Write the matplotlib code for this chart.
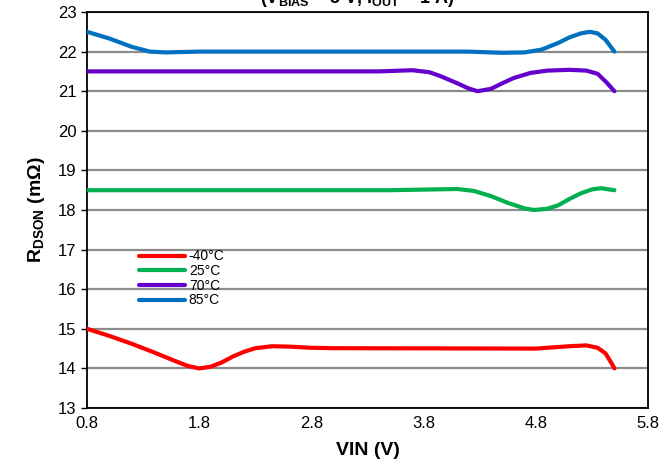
import matplotlib
matplotlib.use("Agg")
import matplotlib.pyplot as plt

plt.rcParams['font.family'] = ['Liberation Sans', 'DejaVu Sans']
plt.rcParams['mathtext.fontset'] = 'custom'
plt.rcParams['mathtext.rm'] = 'Liberation Sans'
plt.rcParams['mathtext.bf'] = 'Liberation Sans:bold'

# data
vin_m40 = [0.8, 1.0, 1.2, 1.4, 1.6, 1.7, 1.8, 1.9, 2.0, 2.1, 2.2, 2.3, 2.45, 2.6, 2.8, 3.0,
           4.8, 4.95, 5.1, 5.25, 5.35, 5.42, 5.47, 5.5]
r_m40 = [15.0, 14.82, 14.62, 14.4, 14.17, 14.06, 14.0, 14.04, 14.15, 14.3, 14.42, 14.51, 14.56,
         14.55, 14.52, 14.51, 14.5, 14.53, 14.56, 14.58, 14.52, 14.38, 14.15, 14.0]

vin_25 = [0.8, 3.5, 3.9, 4.1, 4.25, 4.4, 4.55, 4.7, 4.78, 4.9, 5.0, 5.1, 5.2, 5.3, 5.38, 5.45, 5.5]
r_25 = [18.5, 18.5, 18.52, 18.53, 18.48, 18.35, 18.18, 18.04, 18.0, 18.03, 18.12, 18.28, 18.42,
        18.52, 18.55, 18.52, 18.5]

vin_70 = [0.8, 3.4, 3.6, 3.7, 3.85, 3.95, 4.1, 4.2, 4.28, 4.4, 4.5, 4.6, 4.75, 4.9, 5.1, 5.25,
          5.35, 5.42, 5.5]
r_70 = [21.5, 21.5, 21.52, 21.53, 21.48, 21.38, 21.2, 21.07, 21.0, 21.06, 21.2, 21.33, 21.46,
        21.52, 21.54, 21.52, 21.44, 21.25, 21.0]

vin_85 = [0.8, 1.0, 1.2, 1.36, 1.5, 1.8, 4.2, 4.5, 4.7, 4.85, 5.0, 5.1, 5.2, 5.28, 5.35, 5.42, 5.5]
r_85 = [22.5, 22.33, 22.12, 22.0, 21.98, 22.0, 22.0, 21.97, 21.98, 22.05, 22.22, 22.36, 22.46,
        22.5, 22.46, 22.3, 22.0]

labels = ['-40°C', '25°C', '70°C', '85°C']
colors = ['#FF0000', '#00B050', '#6600CC', '#0070C0']
xticks = [0.8, 1.8, 2.8, 3.8, 4.8, 5.8]
yticks = list(range(13, 24))

fig = plt.figure(figsize=(6.62, 4.71), dpi=100)
ax = fig.add_axes([0.1314, 0.1338, 0.8476, 0.8407])

series = [(vin_m40, r_m40), (vin_25, r_25), (vin_70, r_70), (vin_85, r_85)]
for (x, y), lab, c in zip(series, labels, colors):
    ax.plot(x, y, color=c, lw=3, label=lab, solid_capstyle='round', solid_joinstyle='round', zorder=3)

ax.set_xlim(0.8, 5.8)
ax.set_ylim(13, 23)
ax.set_xticks(xticks)
ax.set_xticklabels([f'{v:.1f}' for v in xticks])
ax.set_yticks(yticks)
ax.tick_params(axis='x', length=0, labelsize=12, pad=6)
ax.tick_params(axis='y', length=4, width=1, labelsize=12, direction='out')
ax.grid(axis='y', color='#8C8C8C', lw=1.6)
for s in ax.spines.values():
    s.set_linewidth(1.3)

ax.set_xlabel('VIN (V)', fontsize=14, fontweight='bold', labelpad=8)
ax.set_ylabel(r'$\mathbf{R_{DSON}}$ (m$\mathbf{\Omega}$)', fontsize=14, fontweight='bold', labelpad=8)

leg = ax.legend(loc='upper left', bbox_to_anchor=(0.075, 0.425), frameon=False, fontsize=10,
                handlelength=3.3, labelspacing=0.05, handletextpad=0.3, borderpad=0.2)

# title is cut off at the top edge in the reference
fig.text(0.54, 1 - 3 / 471, r'(V$_{\mathbf{BIAS}}$ = 5 V, I$_{\mathbf{OUT}}$ = 1 A)', ha='center',
         va='baseline', fontsize=13, fontweight='bold')

fig.savefig('out.png', dpi=100)
